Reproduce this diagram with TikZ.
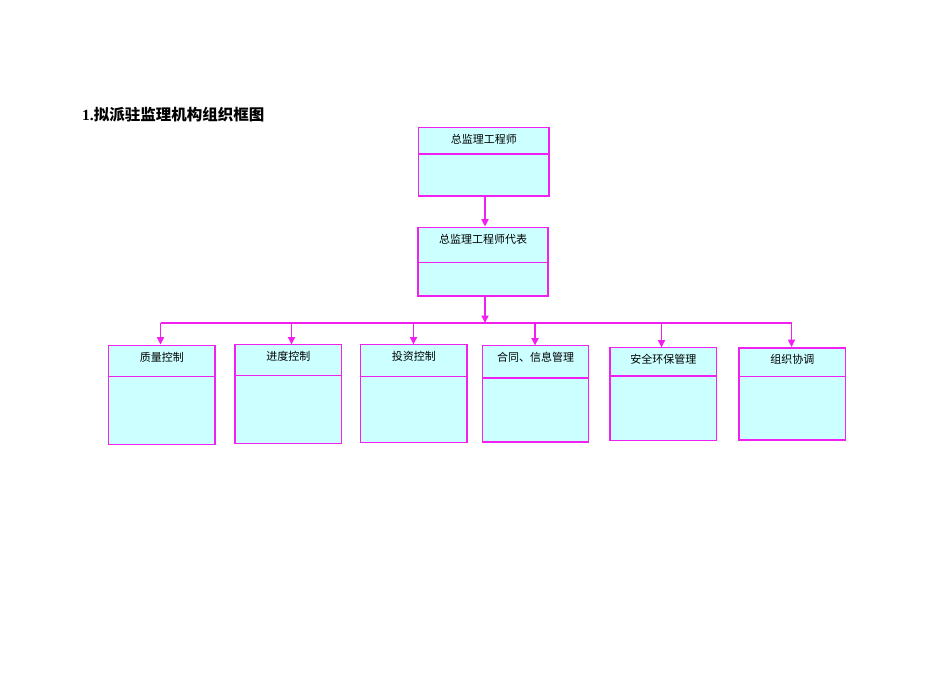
\documentclass[tikz,border=0pt]{standalone}
\usepackage{fontspec}
\setmainfont{Liberation Serif}
\newfontfamily\cjk{Noto Sans CJK SC}
\usetikzlibrary{arrows.meta}
\definecolor{mag}{HTML}{F020F0}
\definecolor{cyanfill}{HTML}{CCFFFF}
\tikzset{
  orgbox/.style={draw=mag, fill=cyanfill, line width=1.8pt, rectangle, inner sep=0pt},
  divline/.style={draw=mag, line width=1.6pt},
  lbl/.style={font=\cjk\fontsize{11}{13}\selectfont, inner sep=0pt, anchor=center},
  conn/.style={draw=mag, line width=1.8pt, -{Triangle[length=7.5pt,width=7pt]}},
  plain/.style={draw=mag, line width=1.8pt}
}
\newcommand{\orgnode}[7]{% name, left, top, right, bottom, divider y, label
  \node[orgbox, minimum width={(#4-#2)*1pt}, minimum height={(#5-#3)*1pt}] (#1) at ({(#2+#4)/2},{(#3+#5)/2}) {};
  \draw[divline] (#2,#6) -- (#4,#6);
  \node[lbl] (#1-t) at ({(#2+#4)/2},{#3+11.8}) {#7};
}
\begin{document}
\begin{tikzpicture}[x=1pt,y=-1pt]
\useasboundingbox (0,0) rectangle (950,672);
\node[anchor=west, inner sep=0pt, font=\bfseries\fontsize{15.5}{18}\selectfont] (title) at (82,115) {1.{\cjk\bfseries 拟派驻监理机构组织框图}};

\orgnode{b1}{418.5}{127.5}{549}{196}{154}{总监理工程师}
\orgnode{b2}{418}{227.5}{548}{296}{262.5}{总监理工程师代表}

\orgnode{c1}{108.5}{345.5}{215}{444.5}{376.5}{质量控制}
\orgnode{c2}{235}{344.5}{341.5}{443.5}{375.5}{进度控制}
\orgnode{c3}{360.5}{344.5}{467}{442.5}{376.5}{投资控制}
\orgnode{c4}{482.5}{345.5}{588.5}{442}{378}{合同、信息管理}
\orgnode{c5}{610}{347.5}{716.5}{440.5}{376}{安全环保管理}
\orgnode{c6}{739}{348}{845.5}{440}{376.5}{组织协调}

\coordinate (busL) at (160.5,323);
\coordinate (busR) at (791.5,323);
\coordinate (busM) at (485,323);

\draw[conn] (busM |- b1.south) -- (busM |- b2.north);
\draw[conn] (busM |- b2.south) -- (busM);
\draw[plain] (busL) -- (busR);
\draw[conn] (busL) -- (busL |- c1.north);
\draw[conn] (291.5,323) -- (291.5,344.5);
\draw[conn] (413.5,323) -- (413.5,344.5);
\draw[conn] (535,323) -- (535,345.5);
\draw[conn] (661.5,323) -- (661.5,347.5);
\draw[conn] (busR) -- (busR |- c6.north);
\end{tikzpicture}
\end{document}
